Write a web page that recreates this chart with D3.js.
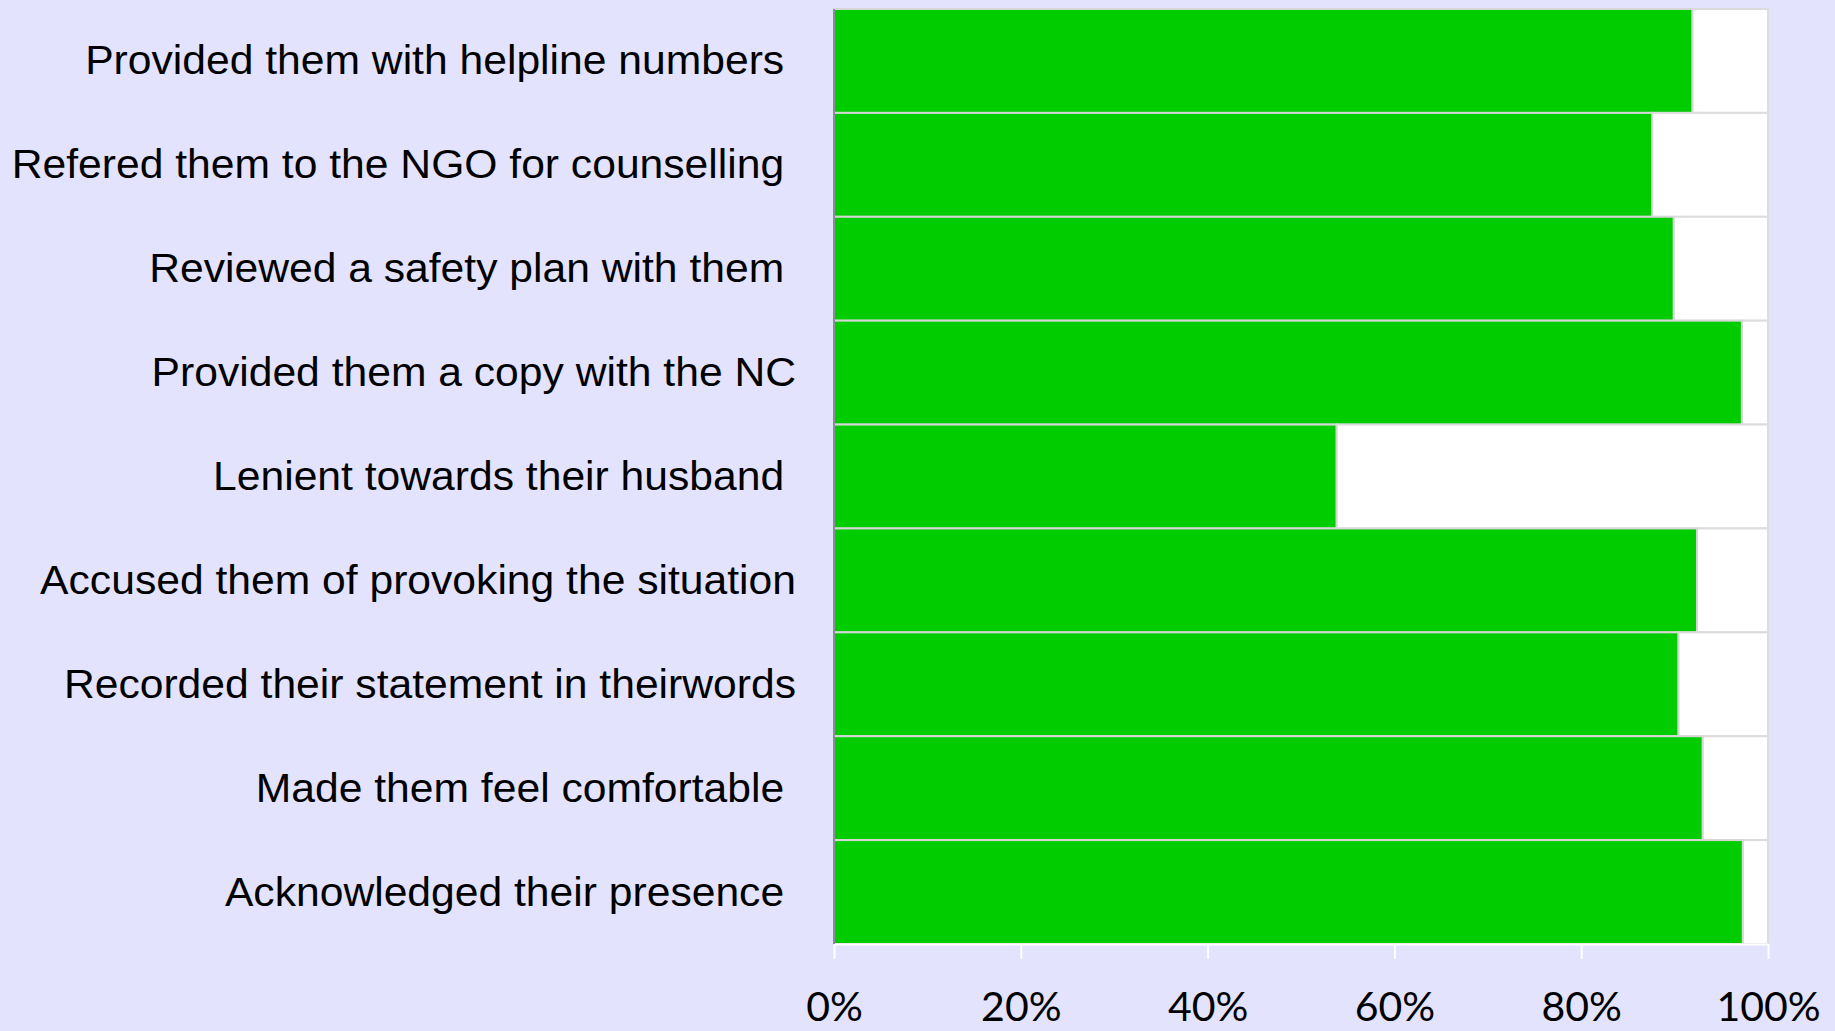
<!DOCTYPE html>
<html>
<head>
<meta charset="utf-8">
<script src="https://cdn.jsdelivr.net/npm/d3@7/dist/d3.min.js"></script>
<style>
  html, body { margin: 0; padding: 0; background: #e3e3fe; }
  svg { display: block; }
  .cat { font-family: "Liberation Sans", Arial, sans-serif; font-size: 40px; fill: #000; white-space: pre; }
  .tick text { font-family: Lato, "Open Sans", sans-serif; font-size: 41px; fill: #000; }
</style>
</head>
<body>
<svg id="chart" width="1835" height="1031"></svg>
<script>
// Survey responses: share of respondents answering "yes" for each statement
const categories = [
  "Provided them with helpline numbers ",
  "Refered them to the NGO for counselling ",
  "Reviewed a safety plan with them ",
  "Provided them a copy with the NC",
  "Lenient towards their husband ",
  "Accused them of provoking the situation",
  "Recorded their statement in theirwords",
  "Made them feel comfortable ",
  "Acknowledged their presence "
];
const yesShare = [0.919, 0.876, 0.899, 0.972, 0.538, 0.924, 0.904, 0.930, 0.973];
const tickValues = [0, 0.2, 0.4, 0.6, 0.8, 1.0];
const tickLabels = ["0%", "20%", "40%", "60%", "80%", "100%"];

const svg = d3.select("#chart");
const margin = { left: 834, right: 1835 - 1768, top: 9, bottom: 1031 - 944 };
const W = 1835, H = 1031;

const x = d3.scaleLinear().domain([0, 1]).range([margin.left, W - margin.right]);
const y = d3.scaleBand().domain(categories).range([margin.top, H - margin.bottom]).padding(0);

const rows = svg.append("g").selectAll("g")
  .data(categories.map((c, i) => ({ c, v: yesShare[i] })))
  .join("g");

// remainder (white) segment
rows.append("rect")
  .attr("x", d => x(d.v))
  .attr("y", d => y(d.c))
  .attr("width", d => x(1) - x(d.v))
  .attr("height", y.bandwidth())
  .attr("fill", "#ffffff")
  .attr("stroke", "#dcdcdc")
  .attr("stroke-width", 2);

// "yes" (green) segment
rows.append("rect")
  .attr("x", x(0))
  .attr("y", d => y(d.c))
  .attr("width", d => x(d.v) - x(0))
  .attr("height", y.bandwidth())
  .attr("fill", "#00cc00")
  .attr("stroke", "#d6d6d6")
  .attr("stroke-width", 2);

// category labels, right aligned beside the axis
const labelScale = 1.066;
svg.append("g").selectAll("text")
  .data(categories)
  .join("text")
  .attr("class", "cat")
  .attr("text-anchor", "end")
  .attr("transform", d => `translate(796,${y(d) + y.bandwidth() / 2 + 13.5}) scale(${labelScale},1)`)
  .text(d => d);

// bottom axis with white ticks
const xAxis = d3.axisBottom(x)
  .tickValues(tickValues)
  .tickFormat((d, i) => tickLabels[i])
  .tickSize(15)
  .tickSizeOuter(0);

const gx = svg.append("g")
  .attr("transform", `translate(0,${H - margin.bottom})`)
  .call(xAxis);
gx.select(".domain").attr("stroke", "#ffffff").attr("stroke-width", 2);
gx.selectAll(".tick line").attr("stroke", "#ffffff").attr("stroke-width", 2);
gx.selectAll(".tick text").attr("y", 77).attr("dy", 0);

// left axis line
svg.append("line")
  .attr("x1", x(0)).attr("x2", x(0))
  .attr("y1", margin.top).attr("y2", H - margin.bottom)
  .attr("stroke", "#8c8c96")
  .attr("stroke-width", 2);
</script>
</body>
</html>
